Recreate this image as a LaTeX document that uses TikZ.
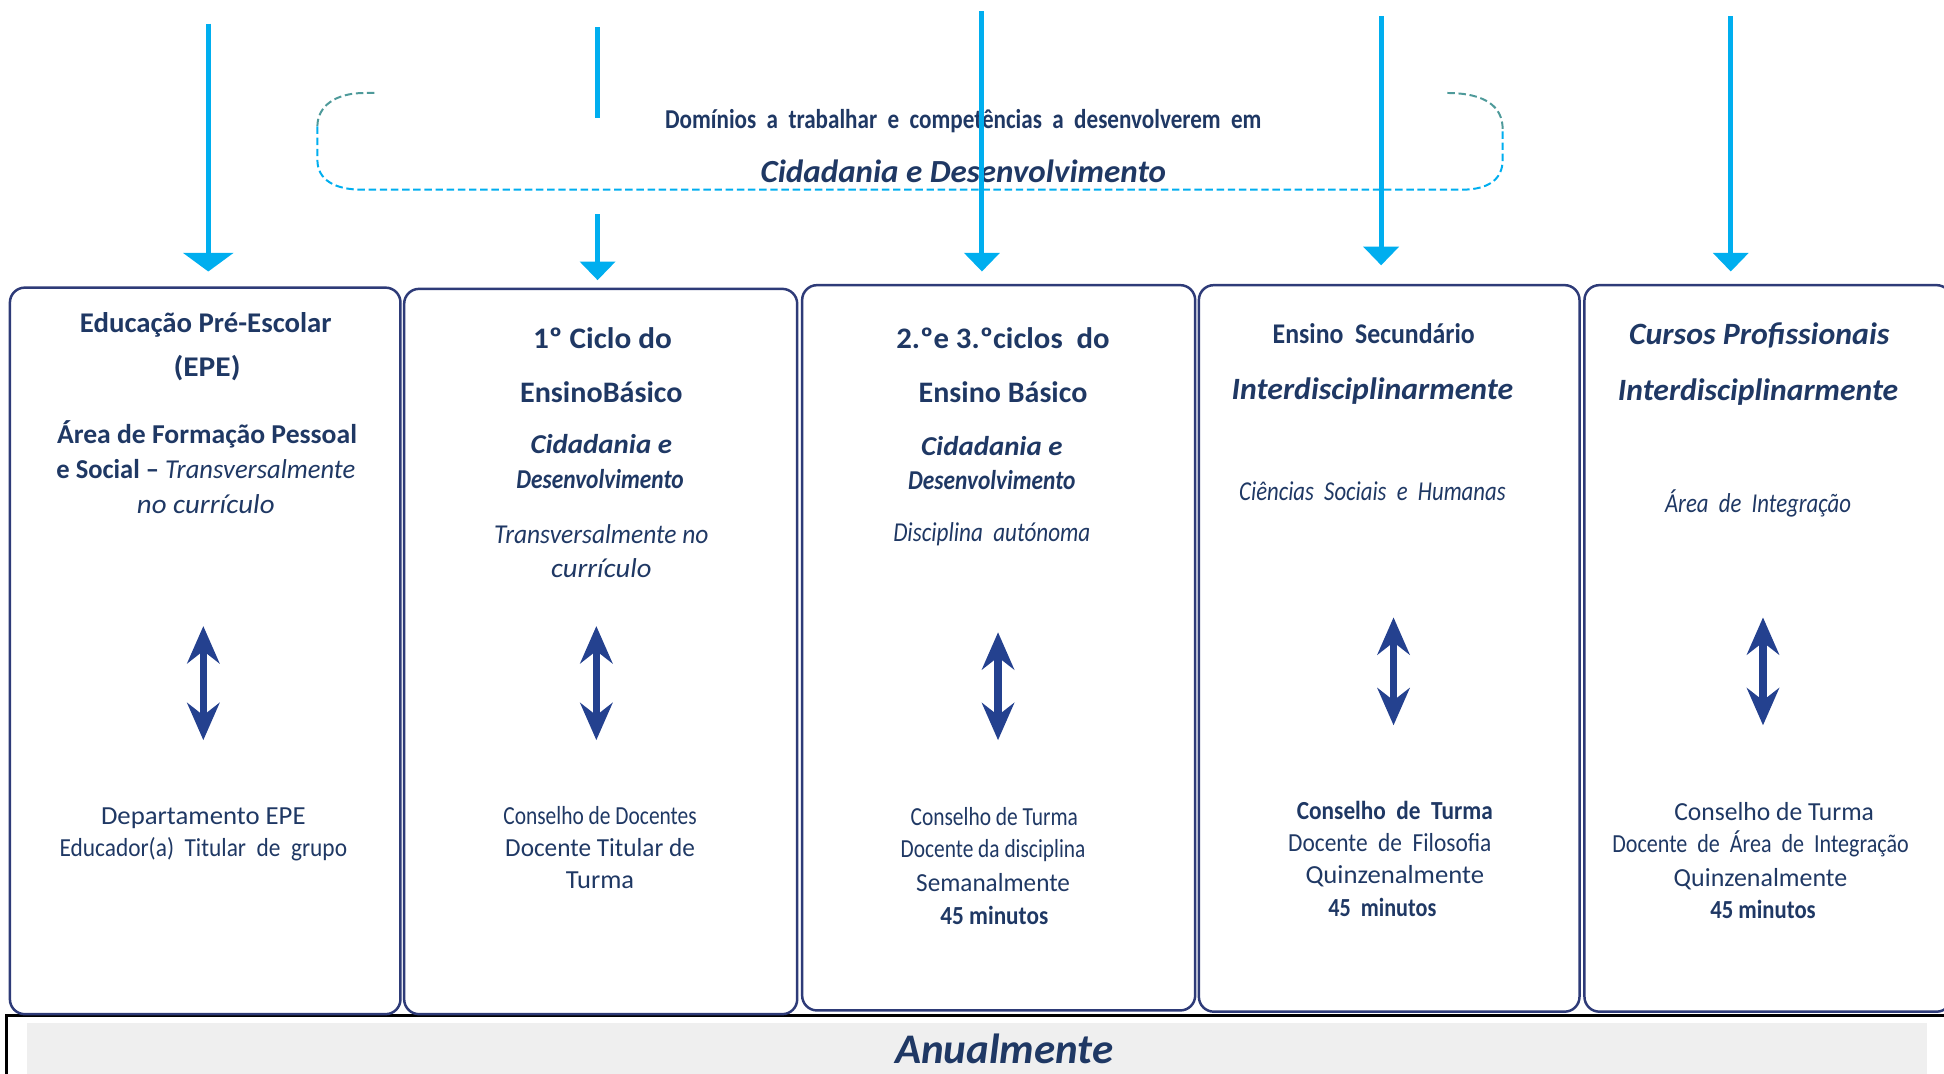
\documentclass[tikz,border=0pt]{standalone}
\usepackage{fontspec}
\usepackage{graphicx}
\setmainfont{Carlito}
\usetikzlibrary{arrows.meta}
\definecolor{navy}{HTML}{1F3864}
\definecolor{boxline}{HTML}{2E3B78}
\definecolor{cyanarr}{HTML}{00AEEF}
\definecolor{tealdash}{HTML}{4E9A9A}
\definecolor{dblblue}{HTML}{24418F}
\definecolor{bargray}{HTML}{EFEFEF}
\newlength{\pxu}\setlength{\pxu}{0.5pt}
\newcommand{\tw}[2]{\resizebox{#1\pxu}{\height}{#2}}
\newcommand{\fs}[1]{\fontsize{#1}{#1}\selectfont}
\newcommand{\ws}{\hskip 0.45em\relax}
\begin{document}
\begin{tikzpicture}[x=0.5pt,y=-0.5pt,
 txt/.style={inner sep=0pt, outer sep=0pt, anchor=base, text=navy},
 rg/.style={txt, font=\fs{10.5}},
 rgb/.style={txt, font=\fs{10.5}\bfseries},
 bd/.style={txt, font=\fs{12}\bfseries},
 bi/.style={txt, font=\fs{11}\bfseries\itshape},
 bib/.style={txt, font=\fs{12.5}\bfseries\itshape},
 itx/.style={txt, font=\fs{11}\itshape},
 colbox/.style={draw=boxline, line width=1pt, rounded corners=6pt, inner sep=0pt, outer sep=0pt},
 cyarrow/.style={draw=cyanarr, line width=2pt, -{Triangle[length=7.5pt,width=14pt]}},
 cyline/.style={draw=cyanarr, line width=2pt},
 dblarrow/.style={draw=dblblue, line width=3pt, {Stealth[length=15pt,width=13pt,inset=5pt]}-{Stealth[length=15pt,width=13pt,inset=5pt]}},
 dashframe/.style={draw=cyanarr, line width=0.8pt, dash pattern=on 3pt off 1.5pt},
]
\useasboundingbox (0,0) rectangle (1568,866);
\clip (0,0) rectangle (1568,866);

% bottom bar
\draw[black, line width=1.2pt] (5,900) -- (5,819) -- (1600,819);
\node[fill=bargray, inner sep=0pt, minimum width=766pt, minimum height=25pt] (bar) at (788,850) {};
\node[txt, font=\fs{17}\bfseries\itshape] (anual) at (810,858) {\tw{176}{Anualmente}};

% boxes
\node[colbox, minimum width=157.5pt, minimum height=293pt] (box1) at (165.5,525) {};
\node[colbox, minimum width=158.5pt, minimum height=292.5pt] (box2) at (484.5,525.5) {};
\node[colbox, minimum width=158.5pt, minimum height=292.5pt] (box3) at (805.5,522.5) {};
\node[colbox, minimum width=153.5pt, minimum height=293pt] (box4) at (1120.5,523) {};
\node[colbox, minimum width=148pt, minimum height=293pt] (box5) at (1426,523) {};

% dashed frame
\draw[dashframe, draw=tealdash] (302,75) -- (294,75) .. controls (270,75) and (256,86) .. (256,102);
\draw[dashframe] (256,102) -- (256,129) .. controls (256,145) and (270,153) .. (292,153) -- (1179,153) .. controls (1200,153) and (1212,145) .. (1212,129) -- (1212,104);
\draw[dashframe, draw=tealdash] (1212,104) .. controls (1212,86) and (1198,75) .. (1167,75);

% top texts
\node[txt, font=\fs{11}\bfseries] (dom) at (777,104) {\tw{481}{Domínios\ws a\ws trabalhar\ws e\ws competências\ws a\ws desenvolverem\ws em}};
\node[txt, font=\fs{13}\bfseries\itshape] (cid) at (777,147) {\tw{327}{Cidadania e Desenvolvimento}};

% box 1
\node[bd, font=\fs{11.5}\bfseries] (t11) at (166,268) {\tw{203}{Educação Pré-Escolar}};
\node[bd, font=\fs{11.5}\bfseries] (t12) at (167,304) {\tw{54}{(EPE)}};
\node[bd, font=\fs{11}\bfseries] (t13) at (167,358) {\tw{242}{Área de Formação Pessoal}};
\node[bd, font=\fs{11}\bfseries] (t14) at (166,386) {\tw{241}{e Social – {\mdseries\itshape Transversalmente}}};
\node[itx] (t15) at (166,414) {\tw{111}{no currículo}};
\node[rg] (t16) at (164,665) {\tw{165}{Departamento EPE}};
\node[rg] (t17) at (164,691) {\tw{232}{Educador(a)\ws Titular\ws de\ws grupo}};

% box 2
\node[bd] (t21) at (486,281) {\tw{112}{1º Ciclo do}};
\node[bd] (t22) at (485,325) {\tw{131}{EnsinoBásico}};
\node[bi] (t23) at (485,366) {\tw{114}{Cidadania e}};
\node[bi] (t24) at (484,394) {\tw{135}{Desenvolvimento}};
\node[itx] (t25) at (485,438) {\tw{173}{Transversalmente no}};
\node[itx] (t26) at (485,466) {\tw{81}{currículo}};
\node[rg] (t27) at (484,665) {\tw{156}{Conselho de Docentes}};
\node[rg] (t28) at (484,691) {\tw{153}{Docente Titular de}};
\node[rg] (t29) at (484,717) {\tw{55}{Turma}};

% box 3
\node[bd] (t31) at (809,281) {\tw{172}{2.ºe 3.ºciclos\ws do}};
\node[bd] (t32) at (809,325) {\tw{136}{Ensino Básico}};
\node[bi] (t33) at (800,367) {\tw{114}{Cidadania e}};
\node[bi] (t34) at (800,395) {\tw{135}{Desenvolvimento}};
\node[itx] (t35) at (800,437) {\tw{159}{Disciplina\ws autónoma}};
\node[rg] (t36) at (802,666) {\tw{135}{Conselho de Turma}};
\node[rg] (t37) at (801,692) {\tw{149}{Docente da disciplina}};
\node[rg] (t38) at (801,719) {\tw{124}{Semanalmente}};
\node[rgb] (t39) at (802,746) {\tw{87}{45 minutos}};

% box 4
\node[bd, font=\fs{11.5}\bfseries] (t41) at (1108,277) {\tw{163}{Ensino\ws Secundário}};
\node[bib] (t42) at (1107,322) {\tw{227}{Interdisciplinarmente}};
\node[itx] (t43) at (1107,404) {\tw{215}{Ciências\ws Sociais\ws e\ws Humanas}};
\node[rgb] (t44) at (1125,661) {\tw{158}{Conselho\ws de\ws Turma}};
\node[rg] (t45) at (1121,687) {\tw{164}{Docente\ws de\ws Filosofia}};
\node[rg] (t46) at (1125,713) {\tw{144}{Quinzenalmente}};
\node[rgb] (t47) at (1115,739) {\tw{87}{45\ws minutos}};

% box 5
\node[bib] (t51) at (1419,278) {\tw{210}{Cursos Profissionais}};
\node[bib] (t52) at (1418,323) {\tw{226}{Interdisciplinarmente}};
\node[itx] (t53) at (1418,413) {\tw{150}{Área\ws de\ws Integração}};
\node[rg] (t54) at (1431,662) {\tw{161}{Conselho de Turma}};
\node[rg] (t55) at (1420,688) {\tw{239}{Docente\ws de\ws Área\ws de\ws Integração}};
\node[rg] (t56) at (1420,715) {\tw{140}{Quinzenalmente}};
\node[rgb] (t57) at (1422,741) {\tw{85}{45 minutos}};

% top arrows
\coordinate (a1s) at (168,19);   \coordinate (a1e) at (168,219);
\coordinate (a2s) at (482,22);   \coordinate (a2m) at (482,95);
\coordinate (a2n) at (482,173);  \coordinate (a2e) at (482,226);
\coordinate (a3s) at (792,9);    \coordinate (a3e) at (792,219);
\coordinate (a4s) at (1114,13);  \coordinate (a4e) at (1114,214);
\coordinate (a5s) at (1396,13);  \coordinate (a5e) at (1396,219);
\draw[cyarrow, -{Triangle[length=7.5pt,width=20pt]}] (a1s) -- (a1e);
\draw[cyline] (a2s) -- (a2m);
\draw[cyarrow] (a2n) -- (a2e);
\draw[cyarrow] (a3s) -- (a3e);
\draw[cyarrow] (a4s) -- (a4e);
\draw[cyarrow] (a5s) -- (a5e);

% double arrows
\coordinate (d1t) at (164,505);  \coordinate (d1b) at (164,597);
\coordinate (d2t) at (481,505);  \coordinate (d2b) at (481,597);
\coordinate (d3t) at (805,510);  \coordinate (d3b) at (805,597);
\coordinate (d4t) at (1124,498); \coordinate (d4b) at (1124,585);
\coordinate (d5t) at (1422,498); \coordinate (d5b) at (1422,585);
\draw[dblarrow] (d1t) -- (d1b);
\draw[dblarrow] (d2t) -- (d2b);
\draw[dblarrow] (d3t) -- (d3b);
\draw[dblarrow] (d4t) -- (d4b);
\draw[dblarrow] (d5t) -- (d5b);
\end{tikzpicture}
\end{document}
